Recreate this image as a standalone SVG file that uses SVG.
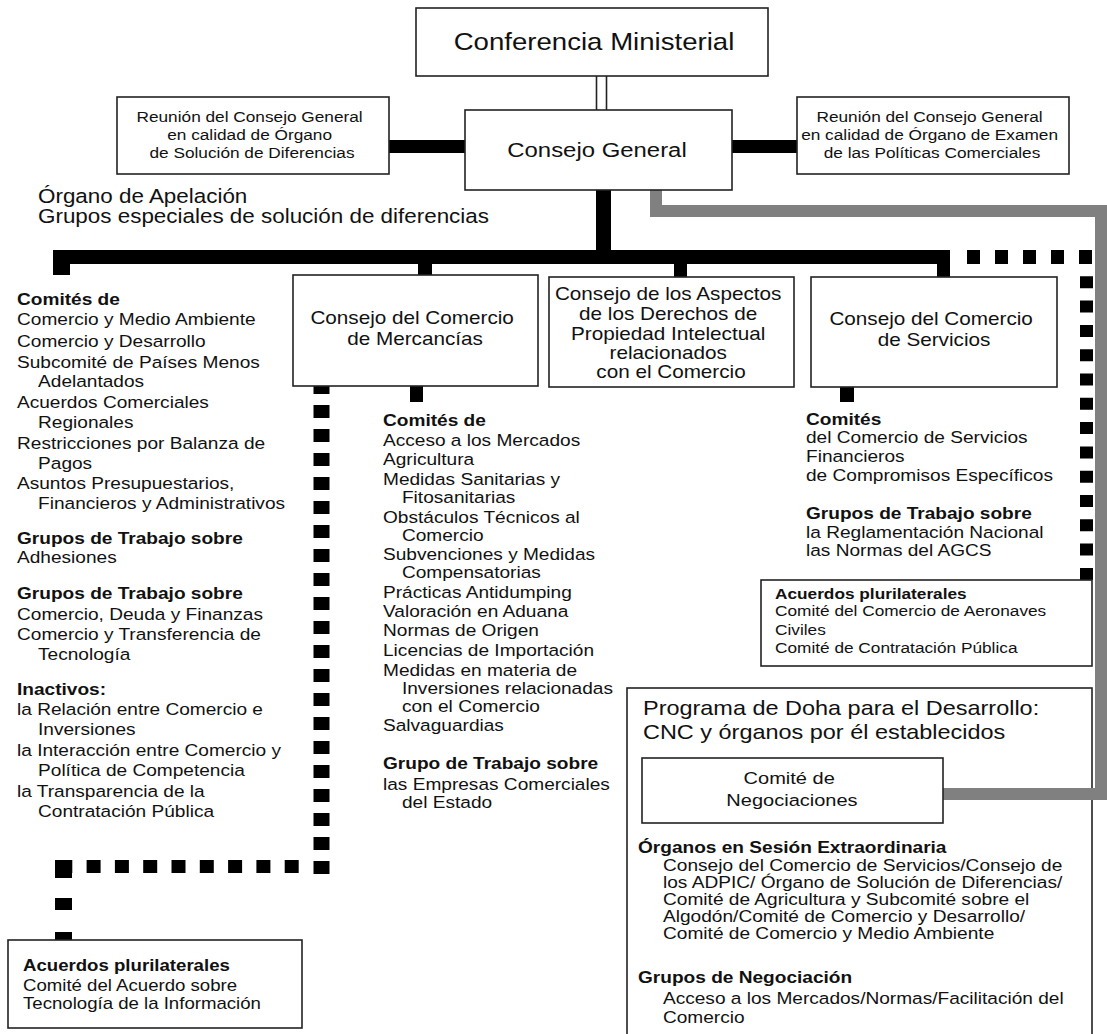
<svg xmlns="http://www.w3.org/2000/svg" width="1107" height="1034" viewBox="0 0 1107 1034">
<style>
text { font-family: "Liberation Sans", Arial, sans-serif; fill: #111; }
.b { font-weight: bold; }
.box { fill: #fff; stroke: #222; stroke-width: 1.6; }
.bar { fill: #000; }
.dbl { stroke: #222; stroke-width: 1.6; fill: none; }
.dash { fill: none; stroke: #000; }
.gray { fill: none; stroke: #808080; stroke-width: 12; stroke-linejoin: miter; }
.f24 { font-size: 24px; }
.f21 { font-size: 20.8px; }
.f19 { font-size: 19.5px; }
.f18 { font-size: 18px; }
.f17 { font-size: 16.6px; }
.f15 { font-size: 15px; }
</style>
<rect width="1107" height="1034" fill="#fff"/>

<g id="doha">
  <rect class="box" x="627" y="688" width="465" height="360"/>
  <text style="font-size:20.4px" transform="translate(643,0) scale(1.15,1)">
    <tspan x="0" y="715">Programa de Doha para el Desarrollo:</tspan>
    <tspan x="0" y="739">CNC y órganos por él establecidos</tspan>
  </text>
  <text class="f17" transform="translate(638,0) scale(1.15,1)">
    <tspan class="b" x="0" y="853">Órganos en Sesión Extraordinaria</tspan>
    <tspan class="b" x="0" y="983">Grupos de Negociación</tspan>
    <tspan x="21.7" y="1004">Acceso a los Mercados/Normas/Facilitación del</tspan>
    <tspan x="21.7" y="1023">Comercio</tspan>
  </text>
  <text style="font-size:15.6px" transform="translate(663,0) scale(1.225,1)">
    <tspan x="0" y="871">Consejo del Comercio de Servicios/Consejo de</tspan>
    <tspan x="0" y="888">los ADPIC/ Órgano de Solución de Diferencias/</tspan>
    <tspan x="0" y="905">Comité de Agricultura y Subcomité sobre el</tspan>
    <tspan x="0" y="922">Algodón/Comité de Comercio y Desarrollo/</tspan>
    <tspan x="0" y="939">Comité de Comercio y Medio Ambiente</tspan>
  </text>
</g>

<g id="connectors">
  <line class="dbl" x1="596.5" y1="76" x2="596.5" y2="110"/>
  <line class="dbl" x1="606.5" y1="76" x2="606.5" y2="110"/>
  <rect class="bar" x="388" y="140" width="78" height="13"/>
  <rect class="bar" x="731" y="140" width="67" height="13"/>
  <rect class="bar" x="596" y="189" width="15" height="63"/>
  <rect class="bar" x="53" y="250" width="897" height="14"/>
  <rect class="bar" x="53" y="250" width="17" height="25"/>
  <rect class="bar" x="418" y="262" width="14" height="14"/>
  <rect class="bar" x="674" y="262" width="13" height="16"/>
  <rect class="bar" x="937" y="262" width="13" height="16"/>
  <rect class="bar" x="410" y="385" width="13" height="17"/>
  <rect class="bar" x="840" y="386" width="14" height="16"/>
  <path class="gray" d="M656,190 V211 H1101 V794 H943"/>
  <path class="dash" stroke-width="14" stroke-dasharray="13 15" stroke-dashoffset="13" d="M952,257 H1093"/>
  <path class="dash" stroke-width="13" stroke-dasharray="12 12.3" stroke-dashoffset="12" d="M1086.5,264 V580"/>
  <path class="dash" stroke-width="16" stroke-dasharray="13 11" stroke-dashoffset="5" d="M321.5,386 V874"/>
  <path class="dash" stroke-width="13" stroke-dasharray="14 14.3" stroke-dashoffset="14" d="M313,866.5 H58"/>
  <path class="dash" stroke-width="17" stroke-dasharray="18 20 12 22 12 100" d="M63.5,860 V940"/>
</g>

<g id="conferencia">
  <rect class="box" x="416" y="8" width="352" height="68"/>
  <text class="f24" text-anchor="middle" transform="translate(594,0) scale(1.15,1)"><tspan x="0" y="50">Conferencia Ministerial</tspan></text>
</g>

<g id="consejo-general">
  <rect class="box" x="465" y="110" width="267" height="80"/>
  <text class="f21" text-anchor="middle" transform="translate(597,0) scale(1.15,1)"><tspan x="0" y="157">Consejo General</tspan></text>
</g>

<g id="osd">
  <rect class="box" x="117" y="97" width="272" height="77"/>
  <text class="f15" text-anchor="middle" transform="translate(252,0) scale(1.15,1)">
    <tspan x="0" y="122.5">Reunión del Consejo General</tspan>
    <tspan x="0" y="140.5">en calidad de Órgano</tspan>
    <tspan x="0" y="158.5">de Solución de Diferencias</tspan>
  </text>
</g>

<g id="oepc">
  <rect class="box" x="797" y="97" width="272" height="77"/>
  <text class="f15" text-anchor="middle" transform="translate(932,0) scale(1.15,1)">
    <tspan x="0" y="122.5">Reunión del Consejo General</tspan>
    <tspan x="0" y="140.5">en calidad de Órgano de Examen</tspan>
    <tspan x="0" y="158.5">de las Políticas Comerciales</tspan>
  </text>
</g>

<g id="apelacion">
  <text class="f19" transform="translate(38,0) scale(1.15,1)">
    <tspan x="0" y="203">Órgano de Apelación</tspan>
    <tspan x="0" y="223">Grupos especiales de solución de diferencias</tspan>
  </text>
</g>

<g id="comites-cg">
  <text class="f17" transform="translate(17,0) scale(1.15,1)">
    <tspan class="b" x="0" y="305">Comités de</tspan>
    <tspan x="0" y="325">Comercio y Medio Ambiente</tspan>
    <tspan x="0" y="347">Comercio y Desarrollo</tspan>
    <tspan x="0" y="368">Subcomité de Países Menos</tspan>
    <tspan x="18.3" y="387">Adelantados</tspan>
    <tspan x="0" y="408">Acuerdos Comerciales</tspan>
    <tspan x="18.3" y="428">Regionales</tspan>
    <tspan x="0" y="449">Restricciones por Balanza de</tspan>
    <tspan x="18.3" y="469">Pagos</tspan>
    <tspan x="0" y="489">Asuntos Presupuestarios,</tspan>
    <tspan x="18.3" y="509">Financieros y Administrativos</tspan>
    <tspan class="b" x="0" y="544">Grupos de Trabajo sobre</tspan>
    <tspan x="0" y="563">Adhesiones</tspan>
    <tspan class="b" x="0" y="599">Grupos de Trabajo sobre</tspan>
    <tspan x="0" y="620">Comercio, Deuda y Finanzas</tspan>
    <tspan x="0" y="640">Comercio y Transferencia de</tspan>
    <tspan x="18.3" y="660">Tecnología</tspan>
    <tspan class="b" x="0" y="695">Inactivos:</tspan>
    <tspan x="0" y="715">la Relación entre Comercio e</tspan>
    <tspan x="18.3" y="735">Inversiones</tspan>
    <tspan x="0" y="756">la Interacción entre Comercio y</tspan>
    <tspan x="18.3" y="776">Política de Competencia</tspan>
    <tspan x="0" y="797">la Transparencia de la</tspan>
    <tspan x="18.3" y="817">Contratación Pública</tspan>
  </text>
</g>

<g id="mercancias">
  <rect class="box" x="293" y="275" width="245" height="111"/>
  <text class="f18" text-anchor="middle" transform="translate(415,0) scale(1.15,1)">
    <tspan x="0" y="324">Consejo del Comercio</tspan>
    <tspan x="0" y="345">de Mercancías</tspan>
  </text>
</g>

<g id="comites-mercancias">
  <text class="f17" transform="translate(383,0) scale(1.15,1)">
    <tspan class="b" x="0" y="426">Comités de</tspan>
    <tspan x="0" y="446">Acceso a los Mercados</tspan>
    <tspan x="0" y="465">Agricultura</tspan>
    <tspan x="0" y="485">Medidas Sanitarias y</tspan>
    <tspan x="16.5" y="503">Fitosanitarias</tspan>
    <tspan x="0" y="523">Obstáculos Técnicos al</tspan>
    <tspan x="16.5" y="541">Comercio</tspan>
    <tspan x="0" y="560">Subvenciones y Medidas</tspan>
    <tspan x="16.5" y="578">Compensatorias</tspan>
    <tspan x="0" y="598">Prácticas Antidumping</tspan>
    <tspan x="0" y="617">Valoración en Aduana</tspan>
    <tspan x="0" y="636">Normas de Origen</tspan>
    <tspan x="0" y="656">Licencias de Importación</tspan>
    <tspan x="0" y="676">Medidas en materia de</tspan>
    <tspan x="16.5" y="694">Inversiones relacionadas</tspan>
    <tspan x="16.5" y="712">con el Comercio</tspan>
    <tspan x="0" y="731">Salvaguardias</tspan>
    <tspan class="b" x="0" y="769">Grupo de Trabajo sobre</tspan>
    <tspan x="0" y="790">las Empresas Comerciales</tspan>
    <tspan x="16.5" y="808">del Estado</tspan>
  </text>
</g>

<g id="adpic">
  <rect class="box" x="549" y="277" width="245" height="110"/>
  <text class="f18" text-anchor="middle" transform="translate(671,0) scale(1.15,1)">
    <tspan x="0" y="300">Consejo de los Aspectos</tspan>
    <tspan x="0" y="320">de los Derechos de</tspan>
    <tspan x="0" y="340">Propiedad Intelectual</tspan>
    <tspan x="0" y="359">relacionados</tspan>
    <tspan x="0" y="378">con el Comercio</tspan>
  </text>
</g>

<g id="servicios">
  <rect class="box" x="811" y="277" width="246" height="110"/>
  <text class="f18" text-anchor="middle" transform="translate(934,0) scale(1.15,1)">
    <tspan x="0" y="325">Consejo del Comercio</tspan>
    <tspan x="0" y="346">de Servicios</tspan>
  </text>
</g>

<g id="comites-servicios">
  <text class="f17" transform="translate(806,0) scale(1.15,1)">
    <tspan class="b" x="0" y="425">Comités</tspan>
    <tspan x="0" y="443">del Comercio de Servicios</tspan>
    <tspan x="0" y="462">Financieros</tspan>
    <tspan x="0" y="481">de Compromisos Específicos</tspan>
    <tspan class="b" x="0" y="519">Grupos de Trabajo sobre</tspan>
    <tspan x="0" y="538">la Reglamentación Nacional</tspan>
    <tspan x="0" y="556">las Normas del AGCS</tspan>
  </text>
</g>

<g id="pluri-servicios">
  <rect class="box" x="761" y="580" width="331" height="86"/>
  <text class="f15" transform="translate(775,0) scale(1.15,1)">
    <tspan class="b" x="0" y="599">Acuerdos plurilaterales</tspan>
    <tspan x="0" y="616">Comité del Comercio de Aeronaves</tspan>
    <tspan x="0" y="635">Civiles</tspan>
    <tspan x="0" y="653">Comité de Contratación Pública</tspan>
  </text>
</g>

<g id="cnc">
  <rect class="box" x="642" y="758" width="301" height="65"/>
  <text style="font-size:17.4px" text-anchor="middle" transform="translate(792,0) scale(1.15,1)">
    <tspan x="0" y="784">Comité de</tspan>
    <tspan x="0" y="806">Negociaciones</tspan>
  </text>
</g>

<g id="pluri-ti">
  <rect class="box" x="8" y="940" width="294" height="88"/>
  <text style="font-size:16.2px" transform="translate(23,0) scale(1.15,1)">
    <tspan class="b" x="0" y="971">Acuerdos plurilaterales</tspan>
    <tspan x="0" y="991">Comité del Acuerdo sobre</tspan>
    <tspan x="0" y="1009">Tecnología de la Información</tspan>
  </text>
</g>
</svg>
